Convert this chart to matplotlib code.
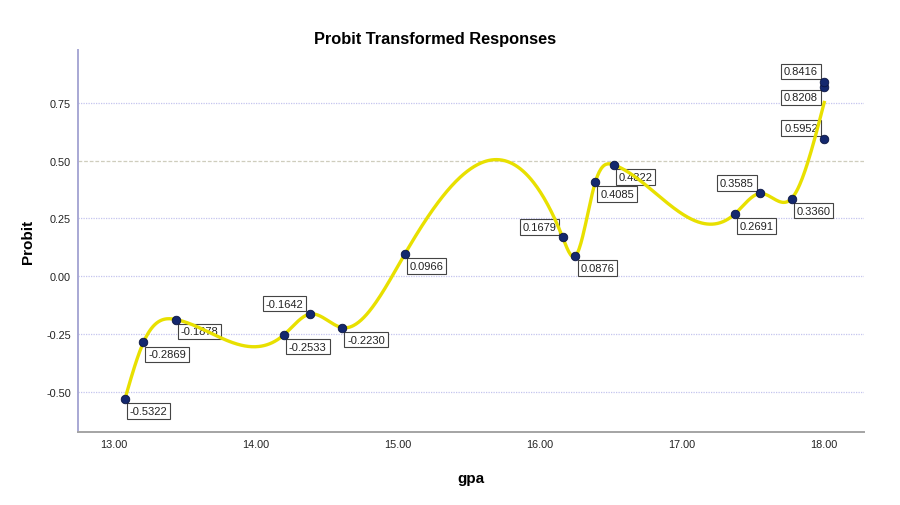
import numpy as np
import matplotlib
matplotlib.use("Agg")
import matplotlib.pyplot as plt

plt.rcParams["font.family"] = ["Liberation Sans", "DejaVu Sans"]

# ----------------------------------------------------
# Data
# ----------------------------------------------------

gpa = [13.08, 13.21, 13.44, 14.20, 14.38, 14.61, 15.05,
       16.16, 16.25, 16.39, 16.52, 17.37, 17.55, 17.77,
       18.00, 18.00, 18.00]

probit = [-0.5322, -0.2869, -0.1878, -0.2533, -0.1642, -0.2230, 0.0966,
          0.1679, 0.0876, 0.4085, 0.4822, 0.2691, 0.3585, 0.3360,
          0.5952, 0.8208, 0.8416]

y_ticks = [-0.50, -0.25, 0.00, 0.25, 0.50, 0.75]
x_ticks = [13.0, 14.0, 15.0, 16.0, 17.0, 18.0]

# label side: "lr" = lower right, "ul" = upper left, "ll" = lower left
label_side = ["lr", "lr", "lr", "lr", "ul", "lr", "lr",
              "ul", "lr", "lr", "lr", "lr", "ul", "lr",
              "ul", "ll", "ul"]

# ----------------------------------------------------
# Natural cubic spline through the mean at each gpa
# ----------------------------------------------------

xs = np.unique(gpa)
ys = np.array([np.mean([p for g, p in zip(gpa, probit) if g == x]) for x in xs])

n = len(xs)
h = np.diff(xs)
A = np.zeros((n, n))
b = np.zeros(n)
A[0, 0] = 1
A[-1, -1] = 1
for i in range(1, n - 1):
    A[i, i - 1] = h[i - 1]
    A[i, i] = 2 * (h[i - 1] + h[i])
    A[i, i + 1] = h[i]
    b[i] = 6 * ((ys[i + 1] - ys[i]) / h[i] - (ys[i] - ys[i - 1]) / h[i - 1])
M = np.linalg.solve(A, b)

x_curve = np.linspace(xs[0], xs[-1], 800)
idx = np.clip(np.searchsorted(xs, x_curve) - 1, 0, n - 2)
x0 = xs[idx]
x1 = xs[idx + 1]
hh = x1 - x0
t0 = x1 - x_curve
t1 = x_curve - x0
y_curve = (M[idx] * t0 ** 3 / (6 * hh) + M[idx + 1] * t1 ** 3 / (6 * hh)
           + (ys[idx] / hh - M[idx] * hh / 6) * t0
           + (ys[idx + 1] / hh - M[idx + 1] * hh / 6) * t1)

# ----------------------------------------------------
# Plot
# ----------------------------------------------------

fig = plt.figure(figsize=(9, 5.06), dpi=100)
ax = fig.add_axes([0.0867, 0.1443, 0.8733, 0.7549])

for yt in y_ticks:
    if yt == 0.50:
        ax.axhline(yt, color="#cfcdbd", lw=0.9, ls=(0, (3, 1.5)), zorder=1)
    else:
        ax.axhline(yt, color="#c4c4ee", lw=0.9, ls=(0, (1, 1)), zorder=1)

ax.plot(x_curve, y_curve, color="#e8e000", lw=2.4, zorder=3)

ax.scatter(gpa, probit, s=38, color="#14286e", edgecolor="#0a1440",
           linewidth=0.6, zorder=4)

offsets = {
    "lr": ((3.5, -5), "left", "top"),
    "ul": ((-4.5, 4), "right", "bottom"),
    "ll": ((-4.5, -4), "right", "top"),
}

for g, p, side in zip(gpa, probit, label_side):
    (dx, dy), ha, va = offsets[side]
    ax.annotate(f"{p:.4f}", (g, p), xytext=(dx, dy),
                textcoords="offset points", ha=ha, va=va, fontsize=8,
                color="#222222", zorder=2,
                bbox=dict(boxstyle="square,pad=0.25", fc="white",
                          ec="#444444", lw=0.8))

ax.set_xlim(12.75, 18.28)
ax.set_ylim(-0.675, 0.98)
ax.set_xticks(x_ticks)
ax.set_xticklabels([f"{v:.2f}" for v in x_ticks])
ax.set_yticks(y_ticks)
ax.set_yticklabels([f"{v:.2f}" for v in y_ticks])
ax.tick_params(length=0, labelsize=7.8, colors="#222222", pad=5)

for side in ["top", "right"]:
    ax.spines[side].set_visible(False)
ax.spines["left"].set_color("#a8a8d4")
ax.spines["left"].set_linewidth(1.4)
ax.spines["bottom"].set_color("#a4a4a4")
ax.spines["bottom"].set_linewidth(1.4)

ax.set_xlabel("gpa", fontsize=11, fontweight="bold", labelpad=16)
ax.set_ylabel("Probit", fontsize=11, fontweight="bold", labelpad=8.5)

fig.text(0.483, 0.921, "Probit Transformed Responses", ha="center",
         va="center", fontsize=11.8, fontweight="bold")

fig.savefig("out.png", dpi=100)
